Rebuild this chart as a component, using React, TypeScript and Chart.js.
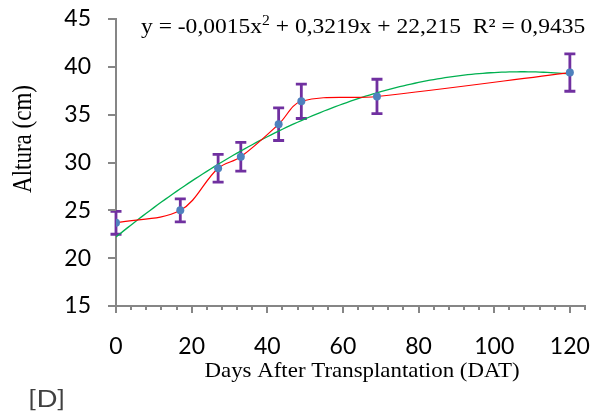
import { useEffect, useRef } from 'react';
import { Chart, registerables } from 'chart.js';

Chart.register(...registerables);

// Plant height (cm) measured at each sampling date, with standard deviations
const days = [0, 17, 27, 33, 43, 49, 69, 120];
const heights = [23.7, 25.0, 29.4, 30.6, 34.0, 36.4, 36.9, 39.4];
const deviations = [1.2, 1.2, 1.45, 1.5, 1.7, 1.8, 1.8, 1.95];

// Polynomial trend: y = a·x² + b·x + c
const trendCoefficients = [-0.0015, 0.3219, 22.215];
const trendRSquared = '0,9435';
const trendDays = Array.from({ length: 121 }, (_, i) => i);

const yTickValues = [15, 20, 25, 30, 35, 40, 45];
const xTickLabels = [0, 20, 40, 60, 80, 100, 120];

const yTitle = 'Altura (cm)';
const xTitle = 'Days After Transplantation (DAT)';
const panelTag = '[D]';

const AXIS_GREY = '#868686';
const SERIF = '"Liberation Serif", "Times New Roman", serif';
const SANS = 'Lato, "Open Sans", sans-serif';

const trendValue = (x: number) =>
  trendCoefficients[0] * x * x + trendCoefficients[1] * x + trendCoefficients[2];

// keep the plot box fixed: the axes own their label space
const fixAxis = (size: { width?: number; height?: number }) => (s: any) => {
  if (size.width !== undefined) s.width = size.width;
  if (size.height !== undefined) s.height = size.height;
  s.paddingTop = 0;
  s.paddingBottom = 0;
  s.paddingLeft = 0;
  s.paddingRight = 0;
};

const decorPlugin = {
  id: 'decor',
  beforeDatasetsDraw(chart: any) {
    const { ctx, scales } = chart;
    const xs = scales.x;
    const ys = scales.y;
    ctx.save();
    ctx.strokeStyle = '#7030A0';
    ctx.lineWidth = 2.8;
    ctx.lineCap = 'butt';
    days.forEach((d, i) => {
      const px = xs.getPixelForValue(d);
      const top = ys.getPixelForValue(heights[i] + deviations[i]);
      const bot = ys.getPixelForValue(heights[i] - deviations[i]);
      ctx.beginPath();
      ctx.moveTo(px, top);
      ctx.lineTo(px, bot);
      ctx.moveTo(px - 5.5, top);
      ctx.lineTo(px + 5.5, top);
      ctx.moveTo(px - 5.5, bot);
      ctx.lineTo(px + 5.5, bot);
      ctx.stroke();
    });
    ctx.restore();
  },
  afterDraw(chart: any) {
    const { ctx, scales, chartArea } = chart;
    const xs = scales.x;
    const ys = scales.y;
    ctx.save();

    // tick marks: major every 20 days, minor every 4
    ctx.strokeStyle = AXIS_GREY;
    ctx.lineWidth = 2;
    ctx.beginPath();
    for (let v = xs.min; v <= xs.max; v += 4) {
      const px = Math.round(xs.getPixelForValue(v));
      const len = v % 20 === 0 ? 7 : 4;
      ctx.moveTo(px, chartArea.bottom);
      ctx.lineTo(px, chartArea.bottom + len);
    }
    yTickValues.forEach((v) => {
      const py = Math.round(ys.getPixelForValue(v));
      ctx.moveTo(chartArea.left - 8, py);
      ctx.lineTo(chartArea.left, py);
    });
    ctx.stroke();

    // trend equation
    ctx.fillStyle = '#000';
    ctx.textBaseline = 'alphabetic';
    ctx.textAlign = 'left';
    ctx.save();
    ctx.translate(141, 33);
    ctx.scale(1.12, 1);
    const fmt = (n: number, digits: number) => n.toFixed(digits).replace('.', ',');
    const a = trendCoefficients[0];
    const partA = `y = ${a < 0 ? '-' : ''}${fmt(Math.abs(a), 4)}x`;
    const partB = ` + ${fmt(trendCoefficients[1], 4)}x + ${fmt(trendCoefficients[2], 3)}  R² = ${trendRSquared}`;
    ctx.font = `21px ${SERIF}`;
    let x = 0;
    ctx.fillText(partA, x, 0);
    x += ctx.measureText(partA).width;
    ctx.font = `14px ${SERIF}`;
    ctx.fillText('2', x, -8);
    x += ctx.measureText('2').width;
    ctx.font = `21px ${SERIF}`;
    ctx.fillText(partB, x, 0);
    ctx.restore();

    // axis titles
    ctx.save();
    ctx.translate(24, 139);
    ctx.scale(1.15, 1);
    ctx.rotate(-Math.PI / 2);
    ctx.font = `23px ${SERIF}`;
    ctx.textAlign = 'center';
    ctx.textBaseline = 'middle';
    ctx.fillText(yTitle, 0, 0);
    ctx.restore();

    ctx.save();
    ctx.translate(362, 377);
    ctx.scale(1.09, 1);
    ctx.font = `21px ${SERIF}`;
    ctx.textAlign = 'center';
    ctx.fillText(xTitle, 0, 0);
    ctx.restore();

    // panel tag
    ctx.save();
    ctx.translate(28, 407);
    ctx.scale(1.15, 1);
    ctx.font = `24px ${SANS}`;
    ctx.fillStyle = '#404040';
    ctx.textAlign = 'left';
    ctx.fillText(panelTag, 0, 0);
    ctx.restore();

    ctx.restore();
  },
};

export default function App() {
  const canvasRef = useRef<HTMLCanvasElement | null>(null);

  useEffect(() => {
    document.body.style.margin = '0';
    const canvas = canvasRef.current;
    if (!canvas) return;

    const chart = new Chart(canvas, {
      type: 'line',
      data: {
        datasets: [
          {
            label: 'Altura',
            data: days.map((d, i) => ({ x: d, y: heights[i] })),
            borderColor: '#FF0000',
            borderWidth: 1.2,
            tension: 0.35,
            pointRadius: 4,
            pointBackgroundColor: '#4F81BD',
            pointBorderColor: '#4F81BD',
            pointBorderWidth: 0,
            order: 1,
          },
          {
            label: 'Polinômica',
            data: trendDays.map((d) => ({ x: d, y: trendValue(d) })),
            borderColor: '#00B050',
            borderWidth: 1.3,
            pointRadius: 0,
            tension: 0,
            order: 2,
          },
        ],
      },
      options: {
        animation: false,
        responsive: true,
        maintainAspectRatio: false,
        layout: { padding: { top: 19, right: 11, left: 0, bottom: 0 } },
        plugins: {
          legend: { display: false },
          tooltip: { enabled: false },
        },
        scales: {
          x: {
            type: 'linear',
            min: 0,
            max: 124,
            grid: { display: false, drawTicks: false },
            border: { display: true, color: AXIS_GREY, width: 2 },
            ticks: {
              stepSize: 4,
              autoSkip: false,
              maxRotation: 0,
              padding: 27,
              color: '#000',
              font: { family: SANS, size: 23 },
              callback: (v: any) => (xTickLabels.includes(Number(v)) ? String(v) : ''),
            },
            afterFit: fixAxis({ height: 108 }),
          },
          y: {
            min: 15,
            max: 45,
            grid: { display: false, drawTicks: false },
            border: { display: true, color: AXIS_GREY, width: 2 },
            ticks: {
              stepSize: 5,
              padding: 25,
              color: '#000',
              font: { family: SANS, size: 23 },
            },
            afterFit: fixAxis({ width: 116 }),
          },
        },
      },
      plugins: [decorPlugin],
    });

    return () => chart.destroy();
  }, []);

  return (
    <div style={{ position: 'relative', width: 596, height: 414, background: '#fff' }}>
      <canvas ref={canvasRef} />
    </div>
  );
}
